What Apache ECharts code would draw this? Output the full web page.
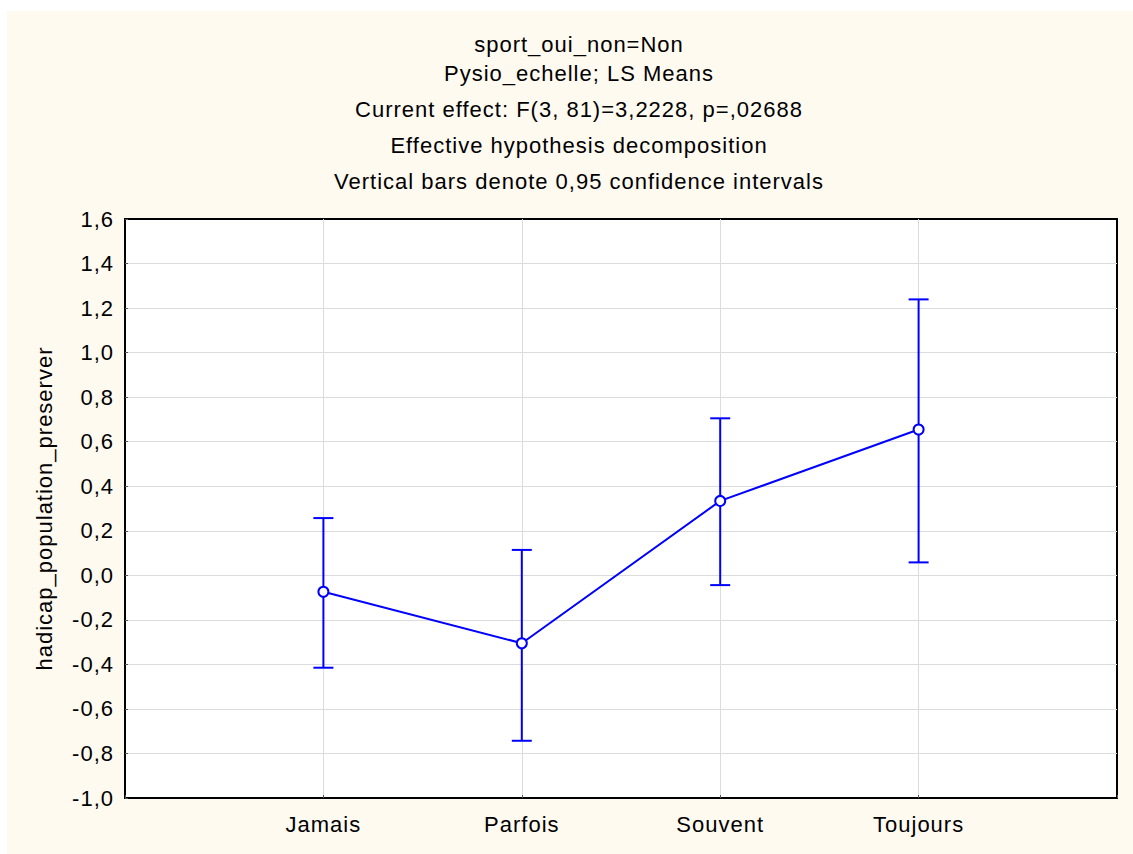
<!DOCTYPE html>
<html>
<head>
<meta charset="utf-8">
<script src="https://cdn.jsdelivr.net/npm/echarts@6/dist/echarts.min.js"></script>
<style>
html,body{margin:0;padding:0;background:#ffffff;}
#wrap{position:absolute;left:7px;top:11px;width:1126px;height:843px;background:#fffaf0;}
#chart{position:absolute;left:0;top:0;width:1133px;height:854px;}
#chart text{letter-spacing:1px !important;}
</style>
</head>
<body>
<div id="wrap"></div>
<div id="chart"></div>
<script>
const categories = ['Jamais', 'Parfois', 'Souvent', 'Toujours'];
const means = [-0.074, -0.305, 0.334, 0.655];
const lowerCI = [-0.415, -0.743, -0.044, 0.058];
const upperCI = [0.257, 0.114, 0.705, 1.239];
const titleLines = [
  'sport_oui_non=Non',
  'Pysio_echelle; LS Means',
  'Current effect: F(3, 81)=3,2228, p=,02688',
  'Effective hypothesis decomposition',
  'Vertical bars denote 0,95 confidence intervals'
];
const yTicks = { min: -1.0, max: 1.6, step: 0.2 };

const FONT = 'Arial, "Liberation Sans", sans-serif';
const FS = 22;
const chart = echarts.init(document.getElementById('chart'), null, {renderer: 'svg'});

const titleTops = [28, 57, 93, 129, 165];
const titles = titleLines.map((t, i) => ({
  text: t,
  left: 574,
  textAlign: 'center',
  top: titleTops[i],
  textStyle: {fontFamily: FONT, fontSize: FS, fontWeight: 'normal', color: '#000'}
}));

const pointData = means.map((m, i) => [i + 1, m]);
const errData = means.map((m, i) => [i + 1, lowerCI[i], upperCI[i]]);

chart.setOption({
  backgroundColor: 'transparent',
  animation: false,
  title: titles,
  grid: {
    left: 125, top: 219, width: 992, height: 579,
    show: true, backgroundColor: '#ffffff', borderColor: '#000000', borderWidth: 2
  },
  xAxis: {
    type: 'value', min: 0, max: categories.length + 1, interval: 1,
    axisLine: {show: true, onZero: false, lineStyle: {color: '#000', width: 2}},
    axisTick: {show: true, inside: true, length: 3, lineStyle: {color: '#555'}},
    splitLine: {show: true, showMinLine: false, showMaxLine: false, lineStyle: {color: '#dcdcdc', width: 1}},
    axisLabel: {
      fontFamily: FONT, fontSize: FS, color: '#000', margin: 15,
      formatter: v => (v >= 1 && v <= categories.length) ? categories[v - 1] : ''
    }
  },
  yAxis: {
    type: 'value', min: yTicks.min, max: yTicks.max, interval: yTicks.step,
    name: 'hadicap_population_preserver',
    nameLocation: 'middle', nameGap: 70, nameRotate: 90,
    nameTextStyle: {fontFamily: FONT, fontSize: FS, color: '#000'},
    axisLine: {show: true, onZero: false, lineStyle: {color: '#000', width: 2}},
    axisTick: {show: true, inside: true, length: 3, lineStyle: {color: '#555'}},
    splitLine: {show: true, showMinLine: false, showMaxLine: false, lineStyle: {color: '#dcdcdc', width: 1}},
    axisLabel: {
      fontFamily: FONT, fontSize: FS, color: '#000', margin: 11,
      formatter: v => v.toFixed(1).replace('.', ',')
    }
  },
  series: [
    {
      type: 'custom',
      data: errData,
      z: 3,
      renderItem: function (params, api) {
        const x = api.value(0);
        const lo = api.coord([x, api.value(1)]);
        const hi = api.coord([x, api.value(2)]);
        const hw = 10;
        const style = {stroke: '#0000ff', lineWidth: 2};
        return {
          type: 'group',
          children: [
            {type: 'line', shape: {x1: lo[0], y1: lo[1], x2: hi[0], y2: hi[1]}, style: style},
            {type: 'line', shape: {x1: lo[0] - hw, y1: lo[1], x2: lo[0] + hw, y2: lo[1]}, style: style},
            {type: 'line', shape: {x1: hi[0] - hw, y1: hi[1], x2: hi[0] + hw, y2: hi[1]}, style: style}
          ]
        };
      }
    },
    {
      type: 'line',
      data: pointData,
      z: 4,
      symbol: 'emptyCircle',
      symbolSize: 10,
      lineStyle: {color: '#0000ff', width: 2},
      itemStyle: {color: '#0000ff', borderColor: '#0000ff', borderWidth: 2}
    }
  ]
});
</script>
</body>
</html>
